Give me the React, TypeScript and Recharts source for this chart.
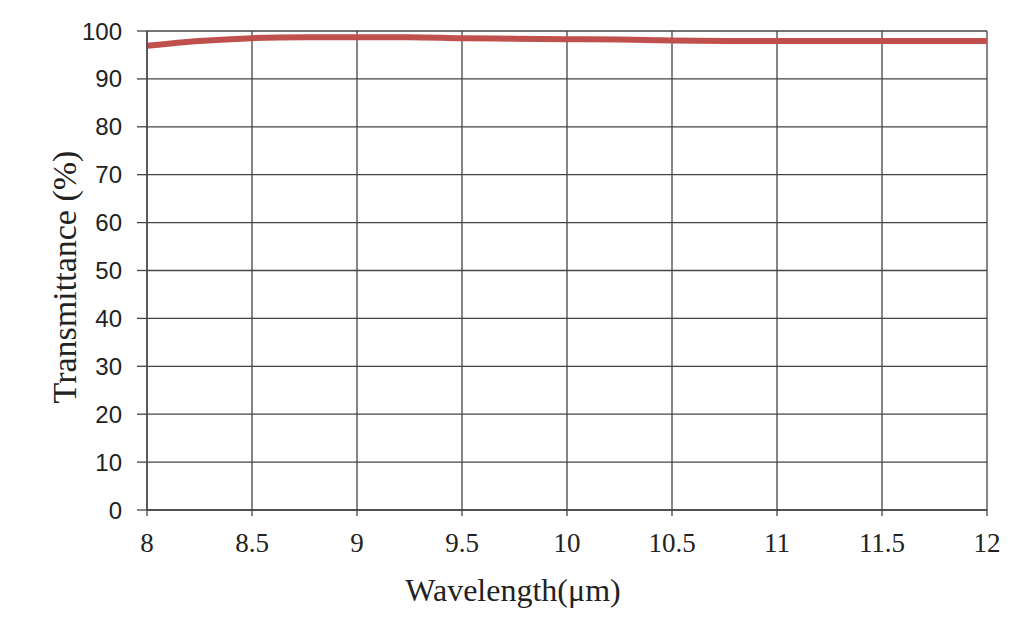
import React from "react";
import { LineChart, Line, XAxis, YAxis, CartesianGrid, Label } from "recharts";

const wavelengths = [8, 8.25, 8.5, 8.75, 9, 9.25, 9.5, 9.75, 10, 10.25, 10.5, 10.75, 11, 11.5, 12];
const transmittance = [96.9, 97.9, 98.5, 98.7, 98.7, 98.7, 98.5, 98.4, 98.3, 98.2, 98.0, 97.9, 97.9, 97.9, 97.9];
const xTicks = [8, 8.5, 9, 9.5, 10, 10.5, 11, 11.5, 12];
const yTicks = [0, 10, 20, 30, 40, 50, 60, 70, 80, 90, 100];

const data = wavelengths.map((w, i) => ({ w, t: transmittance[i] }));

const GRID = "#444";
const SERIF = "'Liberation Serif', 'Times New Roman', serif";
const SANS = "'Liberation Sans', Arial, sans-serif";

const App = () => {
  return (
    <div style={{ position: "absolute", left: 0, top: 0, width: 1024, height: 620, background: "#fff" }}>
      <LineChart width={1024} height={620} data={data} margin={{ top: 31, right: 37, left: 0, bottom: 0 }}>
        <CartesianGrid stroke={GRID} strokeWidth={1.3} />
        <XAxis
          dataKey="w"
          type="number"
          domain={[8, 12]}
          ticks={xTicks}
          height={110}
          stroke={GRID}
          strokeWidth={1.3}
          tickSize={6}
          tickMargin={17}
          tick={{ fill: "#222", fontSize: 27, fontFamily: SERIF }}
        >
          <Label
            content={() => (
              <text x={513} y={601} textAnchor="middle" fontSize={32} fontFamily={SERIF} fill="#222">
                Wavelength(μm)
              </text>
            )}
          />
        </XAxis>
        <YAxis
          type="number"
          domain={[0, 100]}
          ticks={yTicks}
          width={147}
          stroke={GRID}
          strokeWidth={1.3}
          tickSize={10}
          tickMargin={15}
          tick={{ fill: "#222", fontSize: 24, fontFamily: SANS }}
        >
          <Label
            content={() => (
              <text
                x={76}
                y={277}
                textAnchor="middle"
                fontSize={34}
                fontFamily={SERIF}
                fill="#222"
                transform="rotate(-90 76 277)"
              >
                Transmittance (%)
              </text>
            )}
          />
        </YAxis>
        <Line
          type="monotone"
          dataKey="t"
          stroke="#c0504d"
          strokeWidth={6}
          dot={false}
          isAnimationActive={false}
        />
      </LineChart>
    </div>
  );
};

export default App;
